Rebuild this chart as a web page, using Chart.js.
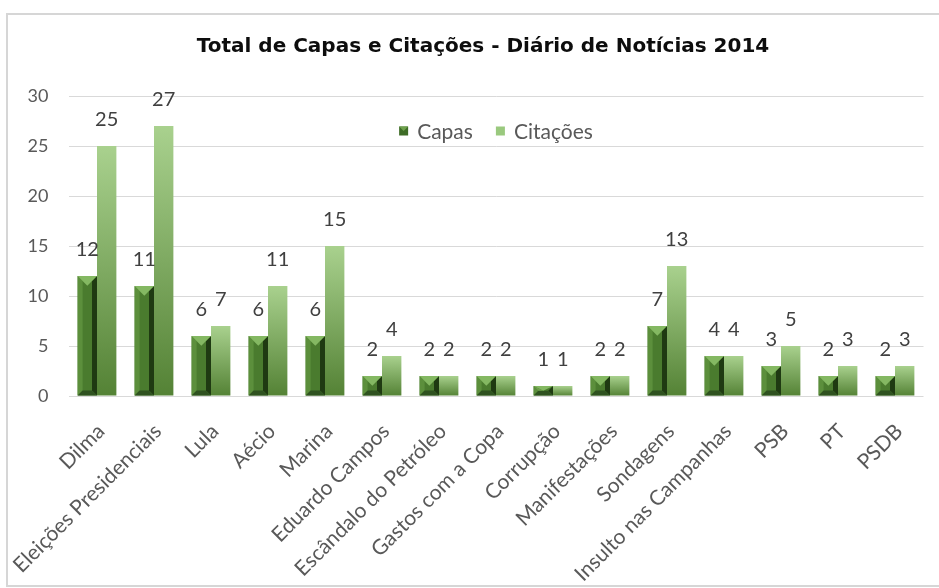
<!DOCTYPE html>
<html><head><meta charset="utf-8">
<script src="https://cdn.jsdelivr.net/npm/chart.js@4.4.0/dist/chart.umd.min.js"></script>
<style>
html,body{margin:0;padding:0;background:#fff;overflow:hidden;width:939px;height:588px;}
#frame{position:absolute;left:6px;top:13px;width:945px;height:570px;border:2px solid #d6d6d6;border-right:none;overflow:hidden;background:#fff;}
#wrap{position:absolute;left:0;top:0;width:931px;height:570px;}
</style></head>
<body>
<div id="frame"><div id="wrap"><canvas id="c" width="931" height="570"></canvas></div></div>
<script>
const categories = ["Dilma","Eleições Presidenciais","Lula","Aécio","Marina","Eduardo Campos","Escândalo do Petróleo","Gastos com a Copa","Corrupção","Manifestações","Sondagens","Insulto nas Campanhas","PSB","PT","PSDB"];
const capas = [12,11,6,6,6,2,2,2,1,2,7,4,3,2,2];
const citacoes = [25,27,7,11,15,4,2,2,1,2,13,4,5,3,3];
const yMin = 0, yMax = 30, yStep = 5;
const seriesNames = ["Capas","Citações"];
const chartTitle = 'Total de Capas e Citações - Diário de Notícias 2014';

const TXT = "Lato, 'Open Sans', sans-serif";

function citGradient(ctx){
  const chart = ctx.chart;
  if (!chart.chartArea || ctx.type !== 'data') return '#8fbf6f';
  const y = chart.scales.y;
  const top = y.getPixelForValue(ctx.raw), bot = y.getPixelForValue(0);
  const g = chart.ctx.createLinearGradient(0, top, 0, bot);
  g.addColorStop(0, '#a9d18e');
  g.addColorStop(1, '#548235');
  return g;
}

function poly(c, pts, col){
  c.beginPath(); c.moveTo(pts[0][0], pts[0][1]);
  for (let i=1;i<pts.length;i++) c.lineTo(pts[i][0], pts[i][1]);
  c.closePath(); c.fillStyle = col; c.fill();
}

const bevelPlugin = {
  id: 'bevel',
  afterDatasetDraw(chart, args){
    if (args.index !== 0) return;
    const c = chart.ctx;
    const meta = chart.getDatasetMeta(0);
    c.save();
    meta.data.forEach(el => {
      const w = el.width, l = el.x - w/2, r = el.x + w/2, t = el.y, b = el.base;
      const h = b - t;
      const s = Math.min(5, h/2);
      poly(c, [[l,t],[l+s,t+s],[l+s,b-s],[l,b]], '#5c8f3c');
      poly(c, [[r,t],[r-s,t+s],[r-s,b-s],[r,b]], '#1f3a12');
      poly(c, [[l,b],[r,b],[r-s,b-s],[l+s,b-s]], '#2f5220');
      const d = Math.min(w/2, h/2);
      poly(c, [[l,t],[r,t],[el.x,t+d]], '#84b862');
      poly(c, [[l,t],[el.x,t+d],[l+s,t+s]], '#6fa24d');
    });
    c.restore();
  }
};

const labelPlugin = {
  id: 'vlabels',
  afterDatasetsDraw(chart){
    const c = chart.ctx;
    c.save();
    c.font = "20px " + TXT;
    c.fillStyle = '#404040';
    c.textAlign = 'center';
    c.textBaseline = 'middle';
    chart.data.datasets.forEach((ds, di) => {
      chart.getDatasetMeta(di).data.forEach((el, i) => {
        c.fillText(String(ds.data[i]), el.x, el.y - 26);
      });
    });
    c.restore();
  }
};

const titlePlugin = {
  id: 'offTitle',
  afterDraw(chart){
    const c = chart.ctx, a = chart.chartArea;
    c.save();
    c.font = "bold 20px 'DejaVu Sans', sans-serif";
    c.fillStyle = '#0d0d0d';
    c.textAlign = 'center';
    c.textBaseline = 'middle';
    c.fillText(chartTitle, (a.left + a.right) / 2 - 13, a.top - 49);
    c.restore();
  }
};

const legendPlugin = {
  id: 'innerLegend',
  afterDraw(chart){
    const c = chart.ctx, a = chart.chartArea;
    c.save();
    c.font = "21px " + TXT;
    c.textBaseline = 'middle';
    const box = 9, gap = 9, sep = 23;
    const items = [
      { text: seriesNames[0], col: '#3e6c27' },
      { text: seriesNames[1], col: '#9ac97e' }
    ];
    let total = 0;
    items.forEach((it, i) => { it.w = c.measureText(it.text).width; total += box + gap + it.w + (i ? sep : 0); });
    let x = (a.left + a.right) / 2 - total / 2;
    const cy = a.top + 35;
    items.forEach((it, i) => {
      if (i) x += sep;
      c.fillStyle = it.col;
      c.fillRect(x, cy - box/2, box, box);
      if (i === 0) {
        poly(c, [[x, cy-box/2],[x+box, cy-box/2],[x+box/2, cy]], '#6fa24d');
      }
      x += box + gap;
      c.fillStyle = '#595959';
      c.fillText(it.text, x, cy + 1);
      x += it.w;
    });
    c.restore();
  }
};

new Chart(document.getElementById('c'), {
  type: 'bar',
  data: {
    labels: categories,
    datasets: [
      { label: seriesNames[0], data: capas, backgroundColor: '#4a7b2e', borderWidth: 0 },
      { label: seriesNames[1], data: citacoes, backgroundColor: citGradient, borderWidth: 0 }
    ]
  },
  options: {
    responsive: false,
    animation: false,
    devicePixelRatio: 1,
    layout: { padding: { left: 0, right: 15.5, top: 81, bottom: 0 } },
    datasets: { bar: { categoryPercentage: 0.68, barPercentage: 1.0 } },
    plugins: {
      title: { display: false },
      legend: { display: false },
      tooltip: { enabled: false }
    },
    scales: {
      x: {
        grid: { display: false, drawTicks: false },
        border: { display: false },
        ticks: { autoSkip: false, minRotation: 45, maxRotation: 45, padding: 23, labelOffset: 4, color: '#595959', font: { family: TXT, size: 21 } },
        afterFit(scale){ scale.paddingLeft = 0; scale.paddingRight = 0; scale.height = 189; }
      },
      y: {
        min: yMin, max: yMax,
        ticks: { stepSize: yStep, padding: 20, color: '#595959', font: { family: TXT, size: 18 } },
        grid: { color: '#d9d9d9', lineWidth: 1, drawTicks: false },
        border: { display: false },
        afterFit(scale){ scale.width = 60.5; }
      }
    }
  },
  plugins: [bevelPlugin, labelPlugin, legendPlugin, titlePlugin]
});
</script>
</body></html>
